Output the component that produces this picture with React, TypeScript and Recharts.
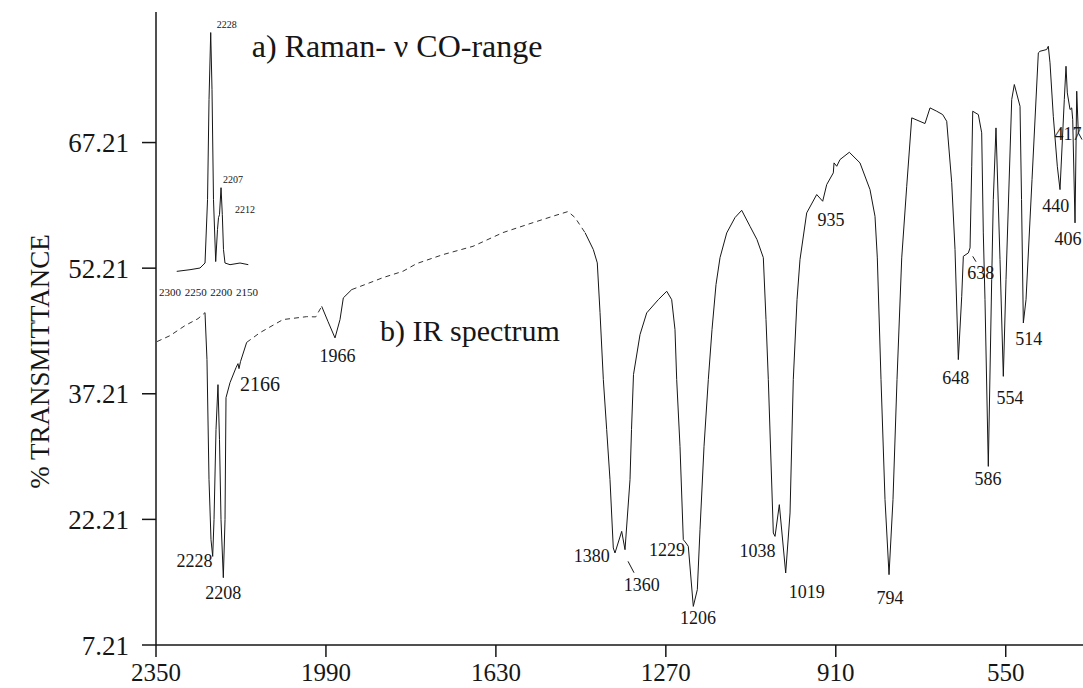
import React from "react";
import {
  ComposedChart,
  Line,
  XAxis,
  YAxis,
  ReferenceDot,
  ReferenceLine,
} from "recharts";

const SERIF = "'Liberation Serif', 'DejaVu Serif', serif";
const INK = "#161616";

// IR spectrum, wavenumber (cm-1) and % transmittance
const irWavenumber = [
  2347.9, 2320.3, 2288.6, 2261.0, 2246.2, 2242.0, 2237.7, 2233.5, 2229.9, 2227.1,
  2222.9, 2218.7, 2215.5, 2212.3, 2207.4, 2203.8, 2201.7, 2193.2, 2180.5, 2176.3,
  2174.2, 2171.0, 2157.9, 2129.7, 2081.0, 2030.8, 2011.7, 1999.0, 1985.6, 1970.8,
  1960.2, 1953.2, 1935.4, 1907.3, 1869.1, 1826.8, 1797.7, 1742.0, 1678.5, 1614.9,
  1557.7, 1504.8, 1477.2, 1462.4, 1441.2, 1423.6, 1415.2, 1409.4, 1402.4, 1395.3,
  1388.3, 1381.3, 1377.7, 1363.5, 1356.5, 1345.9, 1342.7, 1338.5, 1324.7, 1310.5,
  1285.9, 1268.1, 1257.6, 1250.6, 1247.0, 1240.0, 1233.0, 1227.3, 1222.4, 1211.8,
  1203.3, 1197.6, 1189.1, 1180.0, 1172.2, 1163.7, 1155.2, 1141.0, 1123.5, 1109.3,
  1091.7, 1076.9, 1063.5, 1057.8, 1052.9, 1042.3, 1038.7, 1029.6, 1016.1, 1006.9,
  1000.0, 992.1, 985.8, 971.6, 950.4, 937.7, 929.2, 915.2, 913.7, 908.0,
  901.0, 881.3, 858.7, 837.5, 826.9, 822.0, 814.2, 805.7, 797.2, 788.8,
  780.3, 770.3, 759.7, 749.1, 721.0, 710.4, 696.2, 683.5, 675.0, 664.4,
  657.4, 650.4, 643.2, 639.8, 629.2, 625.6, 622.0, 619.9, 608.0, 600.9,
  597.5, 593.9, 586.9, 579.7, 576.3, 570.6, 562.1, 555.1, 549.4, 537.3,
  531.8, 519.7, 516.5, 512.7, 507.0, 494.3, 480.9, 477.4, 463.2, 459.8,
  456.2, 449.2, 440.7, 435.0, 425.9, 422.3, 419.5, 413.8, 410.2, 408.1,
  403.2, 399.6, 396.2, 388.4,
];
const irTransmittance = [
  43.44, 44.15, 45.35, 46.18, 46.9, 41.29, 26.95, 19.79, 17.79, 22.18,
  32.93, 38.3, 31.73, 22.18, 15.25, 22.18, 36.75, 38.54, 40.33, 40.81,
  40.21, 41.05, 43.35, 44.51, 46.07, 46.42, 46.39, 47.65, 45.83, 43.88,
  46.07, 48.66, 49.65, 50.25, 51.08, 51.84, 52.76, 53.83, 54.82, 56.46,
  57.53, 58.49, 58.97, 58.25, 56.46, 54.43, 52.84, 46.9, 38.9, 32.93,
  26.95, 18.8, 18.2, 20.78, 18.59, 26.95, 32.93, 39.5, 44.27, 46.87,
  48.45, 49.45, 48.45, 44.87, 38.9, 30.93, 19.79, 19.39, 18.99, 11.82,
  13.82, 20.98, 30.93, 38.9, 44.87, 50.25, 53.47, 56.42, 58.25, 59.12,
  57.21, 55.62, 53.47, 46.07, 38.9, 20.59, 20.18, 23.97, 15.81, 22.98,
  38.9, 48.45, 53.23, 58.81, 61.0, 60.2, 62.19, 63.59, 64.78, 64.38,
  65.18, 66.05, 64.78, 61.59, 58.4, 53.44, 38.9, 24.57, 15.61, 24.57,
  38.9, 53.44, 61.99, 70.16, 69.48, 71.35, 70.95, 70.55, 69.75, 62.43,
  54.43, 41.29, 48.85, 53.63, 54.03, 54.63, 64.38, 70.95, 70.55, 68.37,
  56.42, 48.45, 28.54, 50.84, 60.4, 68.96, 53.23, 39.29, 50.84, 72.34,
  74.14, 71.54, 60.4, 45.67, 48.45, 62.79, 77.92, 78.11, 78.32, 78.71,
  76.73, 70.35, 64.38, 61.59, 72.34, 76.32, 73.14, 71.15, 71.35, 69.96,
  57.62, 73.34, 68.37, 67.57,
];
// stretches where the scanned trace is broken / faint
const irFaintRanges: [number, number][] = [
  [2246.2, 2350],
  [1999.0, 2157.9],
  [1441.2, 1935.4],
];

// Raman inset (relative intensity)
const ramanShift = [
  2286.9, 2261.0, 2241.6, 2231.8, 2226.9, 2224.0, 2220.7, 2218.2, 2215.3, 2211.0,
  2207.5, 2205.5, 2203.6, 2200.6, 2198.1, 2195.8, 2192.9, 2183.1, 2163.6, 2147.5,
];
const ramanIntensity = [
  0.1, 0.8, 1.5, 3.6, 30.1, 72.0, 100, 76.2, 30.1, 4.2,
  17.6, 22.6, 23.8, 35.1, 23.8, 9.2, 3.6, 2.9, 3.6, 2.9,
];
const ramanTicks = [2300, 2250, 2200, 2150];

const xTicks = [2350, 1990, 1630, 1270, 910, 550];
const yTicks = [7.21, 22.21, 37.21, 52.21, 67.21];

// peak annotations: text, anchor wavenumber, anchor transmittance
const irPeakText = ["2228", "2208", "2166", "1966", "1380", "1360", "1229", "1206", "1038", "1019",
  "935", "794", "648", "638", "586", "554", "514", "440", "406", "417"];
const irPeakWn = [2268.4, 2207.4, 2129.7, 1965.5, 1427.0, 1321.1, 1267.5, 1201.8, 1075.8, 971.6,
  920.1, 795.1, 655.7, 602.8, 587.5, 540.9, 501.3, 443.9, 418.0, 418.0];
const irPeakT = [17.34, 13.46, 38.42, 41.77, 17.88, 14.41, 18.59, 10.47, 18.47, 13.58,
  58.01, 12.86, 39.2, 51.68, 27.07, 36.81, 43.8, 59.68, 55.74, 68.28];
const irPeakSize = [18, 18, 20, 18, 18, 18, 18, 18, 18, 18, 18, 18, 18, 18, 18, 18, 18, 18, 18, 18];

const ramanPeakText = ["2228", "2207", "2212"];
const ramanPeakShift = [2189.5, 2177.3, 2153.9];
const ramanPeakI = [103.3, 38.5, 25.9];

const leaders: [number, number, number, number][] = [
  [1350.1, 17.2, 1337.4, 15.84],
  [619.9, 53.62, 612.9, 52.98],
];

const X_DOMAIN: [number, number] = [386.3, 2350];
const Y_DOMAIN: [number, number] = [7.21, 82.8];
const RAMAN_X: [number, number] = [521.3, 2327.3];
const RAMAN_Y: [number, number] = [-156.2, 108.6];

const inFaint = (wn: number, strict: boolean) =>
  irFaintRanges.some(([a, b]) => (strict ? wn > a && wn < b : wn >= a && wn <= b));

const irSolid = irWavenumber.map((wn, i) => ({
  wn,
  t: inFaint(wn, true) ? null : irTransmittance[i],
}));
const irFaint = irWavenumber.map((wn, i) => ({
  wn,
  t: inFaint(wn, false) ? irTransmittance[i] : null,
}));
const raman = ramanShift.map((wn, i) => ({ wn, i: ramanIntensity[i] }));

const YLabel = (props: any) => {
  const { viewBox } = props;
  const x = viewBox.x + 40;
  const y = viewBox.y + viewBox.height / 2 + 33;
  return (
    <text
      x={x}
      y={y}
      transform={`rotate(-90 ${x} ${y})`}
      textAnchor="middle"
      dominantBaseline="central"
      fontFamily={SERIF}
      fontSize={27}
      fill={INK}
    >
      % TRANSMITTANCE
    </text>
  );
};

export default function App() {
  return (
    <div style={{ position: "absolute", left: 0, top: 0, background: "#fff" }}>
      <ComposedChart
        width={1083}
        height={688}
        margin={{ top: 12, right: 0, bottom: 0, left: 0 }}
      >
        <XAxis
          dataKey="wn"
          type="number"
          domain={X_DOMAIN}
          allowDataOverflow
          reversed
          ticks={xTicks}
          interval={0}
          height={43}
          tickSize={12}
          tickMargin={6}
          axisLine={{ stroke: INK, strokeWidth: 1.5 }}
          tickLine={{ stroke: INK, strokeWidth: 1.5 }}
          tick={{ fill: INK, fontSize: 25, fontFamily: SERIF }}
        />
        <XAxis
          xAxisId="top"
          orientation="top"
          type="number"
          domain={X_DOMAIN}
          allowDataOverflow
          height={0}
          tick={false}
          tickLine={false}
          axisLine={{ stroke: INK, strokeWidth: 1.5 }}
        />
        <XAxis
          xAxisId="raman"
          dataKey="wn"
          type="number"
          domain={RAMAN_X}
          allowDataOverflow
          reversed
          hide
        />
        <YAxis
          type="number"
          domain={Y_DOMAIN}
          allowDataOverflow
          ticks={yTicks}
          interval={0}
          width={156}
          tickSize={14}
          tickMargin={13}
          tickFormatter={(v: number) => v.toFixed(2)}
          axisLine={{ stroke: INK, strokeWidth: 1.5 }}
          tickLine={{ stroke: INK, strokeWidth: 1.5 }}
          tick={{ fill: INK, fontSize: 27, fontFamily: SERIF }}
          label={{ content: <YLabel /> }}
        />
        <YAxis yAxisId="raman" type="number" domain={RAMAN_Y} allowDataOverflow hide />

        <Line
          data={irSolid}
          dataKey="t"
          type="linear"
          stroke={INK}
          strokeWidth={1}
          dot={false}
          activeDot={false}
          isAnimationActive={false}
        />
        <Line
          data={irFaint}
          dataKey="t"
          type="linear"
          stroke="#333"
          strokeWidth={1}
          strokeDasharray="5 4"
          dot={false}
          activeDot={false}
          isAnimationActive={false}
        />
        <Line
          data={raman}
          dataKey="i"
          xAxisId="raman"
          yAxisId="raman"
          type="linear"
          stroke={INK}
          strokeWidth={1}
          dot={false}
          activeDot={false}
          isAnimationActive={false}
        />

        {leaders.map(([x1, y1, x2, y2], k) => (
          <ReferenceLine
            key={`ld${k}`}
            segment={[
              { x: x1, y: y1 },
              { x: x2, y: y2 },
            ]}
            stroke={INK}
            strokeWidth={1}
          />
        ))}

        {irPeakText.map((txt, k) => (
          <ReferenceDot
            key={`pk${k}`}
            x={irPeakWn[k]}
            y={irPeakT[k]}
            r={0}
            fill="none"
            stroke="none"
            label={{
              value: txt,
              position: "center",
              fontSize: irPeakSize[k],
              fontFamily: SERIF,
              fill: INK,
            }}
          />
        ))}

        {ramanPeakText.map((txt, k) => (
          <ReferenceDot
            key={`rp${k}`}
            xAxisId="raman"
            yAxisId="raman"
            x={ramanPeakShift[k]}
            y={ramanPeakI[k]}
            r={0}
            fill="none"
            stroke="none"
            label={{ value: txt, position: "center", fontSize: 10, fontFamily: SERIF, fill: INK }}
          />
        ))}

        {ramanTicks.map((t) => (
          <ReferenceDot
            key={`rt${t}`}
            xAxisId="raman"
            yAxisId="raman"
            x={t}
            y={-8.5}
            r={0}
            fill="none"
            stroke="none"
            label={{ value: String(t), position: "center", fontSize: 11, fontFamily: SERIF, fill: INK }}
          />
        ))}

        <ReferenceDot
          x={2147.3}
          y={78.79}
          r={0}
          fill="none"
          stroke="none"
          label={{
            value: "a) Raman- ν CO-range",
            position: "right",
            offset: 0,
            fontSize: 32,
            fontFamily: SERIF,
            fill: INK,
          }}
        />
        <ReferenceDot
          x={1875.5}
          y={44.75}
          r={0}
          fill="none"
          stroke="none"
          label={{
            value: "b) IR spectrum",
            position: "right",
            offset: 0,
            fontSize: 30,
            fontFamily: SERIF,
            fill: INK,
          }}
        />
      </ComposedChart>
    </div>
  );
}
